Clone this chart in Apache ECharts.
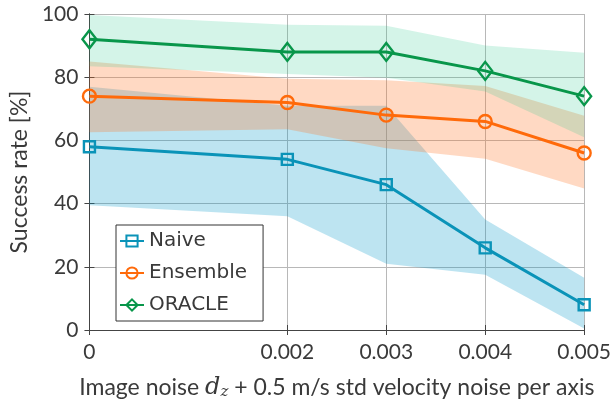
<!DOCTYPE html>
<html><head><meta charset="utf-8">
<script src="https://cdn.jsdelivr.net/npm/echarts@6/dist/echarts.min.js"></script>
<style>html,body{margin:0;padding:0;background:#fff}#c{width:614px;height:405px}</style>
</head><body><div id="c"></div>
<script>
const xValues = [0, 0.002, 0.003, 0.004, 0.005];
const xTicks = [0, 0.002, 0.003, 0.004, 0.005];
const xTickLabels = ['0', '0.002', '0.003', '0.004', '0.005'];
const yTicks = [0, 20, 40, 60, 80, 100];
const naive = [58, 54, 46, 26, 8];
const naiveLow = [39.5, 36, 21, 17.5, 0.5];
const naiveHigh = [77, 71, 71, 35, 16.5];
const ensemble = [74, 72, 68, 66, 56];
const ensembleLow = [62.6, 63.5, 57.5, 54.2, 44.8];
const ensembleHigh = [85, 79.5, 79, 77.2, 67.8];
const oracle = [92, 88, 88, 82, 74];
const oracleLow = [83.5, 81, 79.8, 75.5, 61];
const oracleHigh = [99.7, 96.6, 96.3, 90, 87.7];

const FONT = 'Lato';
const TXT = '#3a3a3a';
const C_N = '#0a93b8', C_E = '#ff6a0a', C_O = '#08964a';

function pairs(arr) { return xValues.map((x, i) => [x, arr[i]]); }
function band(id, low, high, color) {
  return {
    id, type: 'custom', silent: true, z: 1, clip: true,
    data: xValues.map((x, i) => [x, low[i], high[i]]),
    encode: { x: 0, y: [1, 2] },
    renderItem: (params, api) => {
      if (params.dataIndex !== 0) return null;
      const top = xValues.map((x, i) => api.coord([x, high[i]]));
      const bot = xValues.map((x, i) => api.coord([x, low[i]])).reverse();
      return { type: 'polygon', shape: { points: top.concat(bot) }, style: { fill: color } };
    }
  };
}
function line(name, arr, color, symbol, size) {
  return { name, type: 'line', data: pairs(arr), symbol, symbolSize: size, z: 5,
    lineStyle: { color, width: 3 }, itemStyle: { color: 'rgba(255,255,255,0)', borderColor: color, borderWidth: 2.4 } };
}
const tickFmt = v => { const i = xTicks.findIndex(t => Math.abs(t - v) < 1e-9); return i >= 0 ? xTickLabels[i] : ''; };

const chart = echarts.init(document.getElementById('c'), null, { renderer: 'canvas' });
chart.setOption({
  animation: false,
  backgroundColor: '#fff',
  grid: { left: 86, top: 14, right: 25, bottom: 72 },
  legend: {
    data: ['Naive', 'Ensemble', 'ORACLE'], orient: 'vertical', left: 116, top: 225,
    backgroundColor: '#fff', borderColor: '#333', borderWidth: 1, borderRadius: 0,
    padding: [6, 16, 6, 3], itemWidth: 24, itemHeight: 14, itemGap: 12,
    textStyle: { fontFamily: 'DejaVu Sans', fontSize: 20, color: TXT, lineHeight: 20 }
  },
  xAxis: [
    { type: 'value', min: 0, max: 0.005, interval: 0.001, position: 'bottom',
      name: '{a|Image noise }{i|d}{s|z}{a| + 0.5 m/s std velocity noise per axis}',
      nameLocation: 'middle', nameGap: 45,
      nameTextStyle: { rich: {
        a: { fontFamily: FONT, fontSize: 23, color: TXT },
        i: { fontFamily: 'DejaVu Serif', fontStyle: 'italic', fontSize: 24, color: TXT },
        s: { fontFamily: 'DejaVu Serif', fontStyle: 'italic', fontSize: 15, color: TXT, padding: [10, 0, 0, 0] } } },
      axisLine: { show: true, lineStyle: { color: '#444', width: 1 } },
      axisTick: { show: true, inside: true, length: 5, customValues: xTicks, lineStyle: { color: '#444' } },
      axisLabel: { customValues: xTicks, formatter: tickFmt, fontFamily: FONT, fontSize: 21, color: TXT, margin: 12 },
      splitLine: { show: true, lineStyle: { color: '#b8b8b8', width: 1 } } },
    { type: 'value', min: 0, max: 0.005, interval: 0.001, position: 'top',
      axisLine: { show: true, lineStyle: { color: '#444', width: 1 } },
      axisTick: { show: true, inside: true, length: 5, customValues: xTicks, lineStyle: { color: '#444' } },
      axisLabel: { show: false }, splitLine: { show: false } }
  ],
  yAxis: [
    { type: 'value', min: 0, max: 100, interval: 20, position: 'left',
      name: 'Success rate [%]', nameLocation: 'middle', nameGap: 52,
      nameTextStyle: { fontFamily: FONT, fontSize: 23, color: TXT },
      axisLine: { show: true, lineStyle: { color: '#444', width: 1 } },
      axisTick: { show: true, inside: true, length: 5, lineStyle: { color: '#444' } },
      axisLabel: { fontFamily: FONT, fontSize: 21, color: TXT, margin: 11, formatter: v => yTicks.includes(v) ? String(v) : '' },
      splitLine: { show: true, lineStyle: { color: '#b8b8b8', width: 1 } } },
    { type: 'value', min: 0, max: 100, interval: 20, position: 'right',
      axisLine: { show: true, lineStyle: { color: '#444', width: 1 } },
      axisTick: { show: true, inside: true, length: 5, lineStyle: { color: '#444' } },
      axisLabel: { show: false }, splitLine: { show: false } }
  ],
  series: [
    band('nb', naiveLow, naiveHigh, 'rgba(0,150,200,0.26)'),
    band('eb', ensembleLow, ensembleHigh, 'rgba(255,120,40,0.28)'),
    band('ob', oracleLow, oracleHigh, 'rgba(40,200,140,0.2)'),
    line('Naive', naive, C_N, 'rect', 11),
    line('Ensemble', ensemble, C_E, 'circle', 13),
    line('ORACLE', oracle, C_O, 'diamond', [14, 18])
  ]
});
</script></body></html>
